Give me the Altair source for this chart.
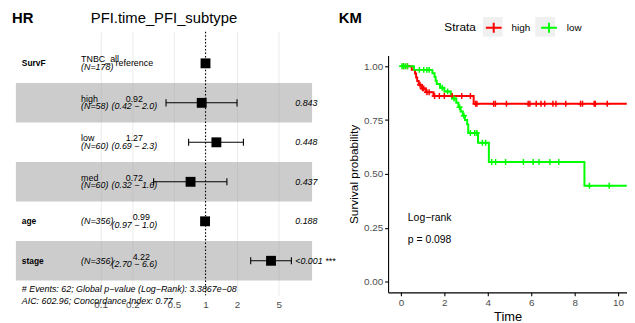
import altair as alt
import pandas as pd

FONT = "Liberation Sans"

# ---------------- forest plot data ----------------
row_var = ["SurvF", "", "", "", "age", "stage"]
row_level = ["TNBC_all", "high", "low", "med", "", ""]
row_n = ["(N=178)", "(N=58)", "(N=60)", "(N=60)", "(N=356)", "(N=356)"]
hr_est = [1.0, 0.92, 1.27, 0.72, 0.99, 4.22]
hr_low = [None, 0.42, 0.69, 0.32, 0.97, 2.70]
hr_high = [None, 2.0, 2.3, 1.6, 1.0, 6.6]
est_text = ["reference", "0.92", "1.27", "0.72", "0.99", "4.22"]
ci_text = ["", "(0.42 − 2.0)", "(0.69 − 2.3)", "(0.32 − 1.6)", "(0.97 − 1.0)", "(2.70 − 6.6)"]
p_text = ["", "0.843", "0.448", "0.437", "0.188", "<0.001 ***"]
footer_events = "# Events: 62; Global p−value (Log−Rank): 3.3867e−08"
footer_aic = "AIC: 602.96; Concordance Index: 0.77"
forest_title = "PFI.time_PFI_subtype"
hr_ticks = [0.1, 0.2, 0.5, 1, 2, 5]

# ---------------- Kaplan-Meier data ----------------
strata = ["high", "low"]
strata_colors = ["#FF0000", "#00FF00"]
high_time = [0, 0.5, 0.65, 0.7, 0.75, 0.82, 0.95, 1.15, 1.5, 3.35, 10.4]
high_surv = [1.0, 0.983, 0.966, 0.948, 0.931, 0.914, 0.897, 0.879, 0.862, 0.826, 0.826]
low_time = [0, 0.6, 1.45, 1.55, 1.6, 1.65, 1.8, 2.0, 2.3, 2.35, 2.55, 2.65, 2.75,
            2.85, 2.95, 3.05, 3.1, 3.55, 4.05, 8.45, 10.4]
low_surv = [1.0, 0.983, 0.967, 0.95, 0.933, 0.917, 0.90, 0.883, 0.867, 0.85, 0.83, 0.81,
            0.79, 0.77, 0.75, 0.73, 0.69, 0.645, 0.555, 0.445, 0.445]
high_censor = [0.12, 0.3, 0.88, 1.0, 1.05, 1.2, 1.3, 1.55, 1.77, 2.0, 2.36, 2.8, 3.2,
               3.44, 3.5, 4.27, 4.35, 4.86, 5.86, 5.94, 6.23, 6.45, 6.62, 7.0, 7.14,
               7.59, 8.27, 8.36, 8.9, 8.95, 9.5]
low_censor = [0.05, 0.12, 0.2, 0.3, 0.85, 1.05, 1.2, 1.3, 1.9, 2.15, 2.45, 2.7, 2.9,
              3.2, 3.4, 3.5, 3.75, 3.9, 4.18, 4.36, 4.82, 5.64, 6.09, 6.36, 6.86, 7.27,
              8.68, 9.59]
pval_label = "Log−rank"
pval_value = "p = 0.098"
pval_pos = (0.32, 0.294, 0.193)  # time, y of first line, y of second line

# ---------------- layout constants ----------------
HR_DOMAIN = [0.0155, 10.4]
ROW_DOMAIN = [-0.8, 5.875]
X_VAR, X_LEVEL, X_EST, X_P = 0.01765, 0.0649, 0.2094, 7.19
TIME_DOMAIN = [-0.59, 10.41]
SURV_DOMAIN = [-0.05, 1.05]
GREY = "#4D4D4D"

one = pd.DataFrame({"k": [0]})

# ---------------- forest ----------------
fdf = pd.DataFrame({
    "row": list(range(len(row_var))), "var": row_var, "level": row_level, "n": row_n,
    "est": hr_est, "lo": hr_low, "hi": hr_high, "est_text": est_text,
    "ci_text": ci_text, "p_text": p_text,
})
fdf["kind"] = ["ref" if e == "reference" else ("cat" if l else "cont")
               for e, l in zip(est_text, row_level)]

XS = alt.Scale(type="log", domain=HR_DOMAIN, nice=False)
YS = alt.Scale(domain=ROW_DOMAIN, reverse=True, nice=False, zero=False)
base = alt.Chart(fdf)

bands = base.transform_filter("datum.row % 2 == 1").transform_calculate(
    y1="datum.row - 0.5", y2="datum.row + 0.5"
).mark_rect(color="#9a9a9a", opacity=0.5).encode(
    x=alt.XDatum(HR_DOMAIN[0], scale=XS, axis=alt.Axis(
        values=hr_ticks, format="~g", grid=True, gridColor="#EBEBEB", gridWidth=1,
        domain=False, ticks=False, labelPadding=4, labelFontSize=10,
        labelColor=GREY, labelOverlap=False, labelFlush=False, title=None)),
    x2=alt.X2Datum(HR_DOMAIN[1]),
    y=alt.Y("y1:Q", scale=YS, axis=None),
    y2="y2:Q",
)

vline = alt.Chart(one).mark_rule(color="black", strokeDash=[1.5, 2], strokeWidth=1.1).encode(
    x=alt.XDatum(1))

valid = base.transform_filter("isValid(datum.lo)")
bars = valid.mark_rule(color="black", strokeWidth=1.1).encode(
    x="lo:Q", x2="hi:Q", y="row:Q")
caps = valid.transform_fold(["lo", "hi"], as_=["side", "xv"]).transform_calculate(
    c1="datum.row - 0.09", c2="datum.row + 0.09"
).mark_rule(color="black", strokeWidth=1.1).encode(x="xv:Q", y="c1:Q", y2="c2:Q")
squares = base.mark_square(size=100, color="black", opacity=1).encode(x="est:Q", y="row:Q")

T = dict(fontSize=9, color="black")
t_var = base.mark_text(align="left", baseline="middle", fontWeight="bold", fontSize=8.5,
                       color="black").encode(x=alt.XDatum(X_VAR), y="row:Q", text="var:N")
t_level = base.mark_text(align="left", baseline="alphabetic", dy=-1, **T).encode(
    x=alt.XDatum(X_LEVEL), y="row:Q", text="level:N")
t_n_cat = base.transform_filter("datum.kind != 'cont'").mark_text(
    align="left", baseline="alphabetic", dy=6.5, fontStyle="italic", **T).encode(
    x=alt.XDatum(X_LEVEL), y="row:Q", text="n:N")
t_n_cont = base.transform_filter("datum.kind == 'cont'").mark_text(
    align="left", baseline="middle", fontStyle="italic", **T).encode(
    x=alt.XDatum(X_LEVEL), y="row:Q", text="n:N")
t_ref = base.transform_filter("datum.kind == 'ref'").mark_text(
    align="center", baseline="middle", **T).encode(
    x=alt.XDatum(X_EST), y="row:Q", text="est_text:N")
t_est_cat = base.transform_filter("datum.kind == 'cat'").mark_text(
    align="center", baseline="alphabetic", dy=-1, **T).encode(
    x=alt.XDatum(X_EST), y="row:Q", text="est_text:N")
t_est_cont = base.transform_filter("datum.kind == 'cont'").mark_text(
    align="center", baseline="alphabetic", dy=-1, dx=7, **T).encode(
    x=alt.XDatum(X_EST), y="row:Q", text="est_text:N")
t_ci = base.mark_text(align="center", baseline="alphabetic", dy=6.5, fontStyle="italic",
                      **T).encode(x=alt.XDatum(X_EST), y="row:Q", text="ci_text:N")
t_p = base.mark_text(align="left", baseline="middle", fontStyle="italic", **T).encode(
    x=alt.XDatum(X_P), y="row:Q", text="p_text:N")
t_f1 = alt.Chart(one).mark_text(text=footer_events, align="left", baseline="alphabetic",
                                fontStyle="italic", **T).encode(
    x=alt.XDatum(X_VAR), y=alt.YDatum(5.79))
t_f2 = alt.Chart(one).mark_text(text=footer_aic, align="left", baseline="alphabetic",
                                fontStyle="italic", **T).encode(
    x=alt.XDatum(X_VAR), y=alt.YDatum(6.1))
t_hr = alt.Chart(one).mark_text(text="HR", fontSize=15, fontWeight="bold", align="left",
                                baseline="top", color="black").encode(
    x=alt.value(-4), y=alt.value(-21))
t_title = alt.Chart(one).mark_text(text=forest_title, fontSize=15, align="center",
                                   baseline="top", color="black").encode(
    x=alt.value(150), y=alt.value(-21))

forest = alt.layer(
    bands, vline, bars, caps, squares, t_var, t_level, t_n_cat, t_n_cont, t_ref,
    t_est_cat, t_est_cont, t_ci, t_p, t_f1, t_f2, t_hr, t_title
).properties(width=300, height=267)

# ---------------- Kaplan-Meier ----------------
def step_value(times, survs, t):
    v = survs[0]
    for tt, s in zip(times, survs):
        if tt <= t:
            v = s
    return v

curve_rows = []
for name, ts, ss in [("high", high_time, high_surv), ("low", low_time, low_surv)]:
    for t, s in zip(ts, ss):
        curve_rows.append({"strata": name, "time": t, "surv": s})
curve_df = pd.DataFrame(curve_rows)

cens_rows = []
for name, cs, ts, ss in [("high", high_censor, high_time, high_surv),
                         ("low", low_censor, low_time, low_surv)]:
    for c in cs:
        cens_rows.append({"strata": name, "time": c, "surv": step_value(ts, ss, c)})
cens_df = pd.DataFrame(cens_rows)

KX = alt.Scale(domain=TIME_DOMAIN, nice=False, zero=False)
KY = alt.Scale(domain=SURV_DOMAIN, nice=False, zero=False)
CS = alt.Scale(domain=strata, range=strata_colors)

x_axis = alt.Axis(values=[0, 2, 4, 6, 8, 10], title="Time", grid=False,
                  domainColor="black", domainWidth=1.1, tickColor="black", tickSize=3.5,
                  tickWidth=1.1, labelFontSize=10, labelColor=GREY, labelPadding=2,
                  labelFlush=False, titleFontSize=13, titleFontWeight="normal",
                  titleColor="black", titlePadding=3)
y_axis = alt.Axis(values=[0, 0.25, 0.5, 0.75, 1], format=".2f",
                  title="Survival probability", grid=False, domainColor="black",
                  domainWidth=1.1, tickColor="black", tickSize=3.5, tickWidth=1.1,
                  labelFontSize=10, labelColor=GREY, labelPadding=2, labelFlush=False,
                  titleFontSize=12, titleFontWeight="normal", titleColor="black",
                  titlePadding=3)

# legends are lifted to the top-level group, whose origin is the forest panel's corner
LEG = dict(orient="none", legendX=434, legendY=-15, direction="horizontal",
           titleOrient="left", title="Strata", titleFontSize=12,
           titleFontWeight="normal", titleBaseline="middle", titleAnchor="middle",
           titlePadding=6, labelFontSize=10, labelOffset=7, columnPadding=7,
           symbolSize=400)
line_legend = alt.Legend(symbolType="M-0.8,0L0.8,0M0,-0.5L0,0.5", symbolStrokeWidth=2,
                         symbolFillColor="transparent", titleColor="black",
                         labelColor="black", zindex=2, **LEG)
bg_legend = alt.Legend(symbolType="square", symbolStrokeWidth=0, symbolOpacity=1,
                       titleColor="transparent", labelColor="transparent", zindex=1, **LEG)

CROSS = "M-1,0L1,0M0,-1L0,1"

bg = alt.Chart(cens_df).transform_calculate(strata_bg="datum.strata").mark_point(
    shape="square", filled=True, opacity=0).encode(
    x=alt.X("time:Q", scale=KX, axis=x_axis),
    y=alt.Y("surv:Q", scale=KY, axis=y_axis),
    fill=alt.Fill("strata_bg:N", scale=alt.Scale(range=["#F0F0F0", "#F0F0F0"]),
                  legend=bg_legend),
)
lines = alt.Chart(curve_df).mark_line(interpolate="step-after", strokeWidth=2,
                                      clip=True).encode(
    x="time:Q", y="surv:Q",
    color=alt.Color("strata:N", scale=CS, legend=line_legend),
)
marks = alt.Chart(cens_df).mark_point(shape=CROSS, size=36, strokeWidth=1.5,
                                      filled=False, opacity=1, clip=True).encode(
    x="time:Q", y="surv:Q",
    color=alt.Color("strata:N", scale=CS, legend=line_legend),
)
p1 = alt.Chart(one).mark_text(text=pval_label, align="left", baseline="middle",
                              fontSize=10.5, color="black").encode(
    x=alt.XDatum(pval_pos[0]), y=alt.YDatum(pval_pos[1]))
p2 = alt.Chart(one).mark_text(text=pval_value, align="left", baseline="middle",
                              fontSize=10.5, color="black").encode(
    x=alt.XDatum(pval_pos[0]), y=alt.YDatum(pval_pos[2]))
t_km = alt.Chart(one).mark_text(text="KM", fontSize=15, fontWeight="bold", align="left",
                                baseline="top", color="black").encode(
    x=alt.value(-50), y=alt.value(-45))

km = alt.layer(bg, lines, marks, p1, p2, t_km).properties(width=242, height=240)

spacer = alt.Chart(one).mark_text(text=" ", opacity=0).encode(
    x=alt.value(0), y=alt.value(0)).properties(width=242, height=24)

chart = alt.hconcat(
    forest,
    alt.vconcat(spacer, km, spacing=0, bounds="flush"),
    spacing=77, bounds="flush",
).properties(
    padding={"left": 4, "top": 1, "right": 0, "bottom": 0}
).configure(font=FONT).configure_view(stroke=None)

chart.save("out.html", embed_options={"renderer": "svg", "actions": False})
